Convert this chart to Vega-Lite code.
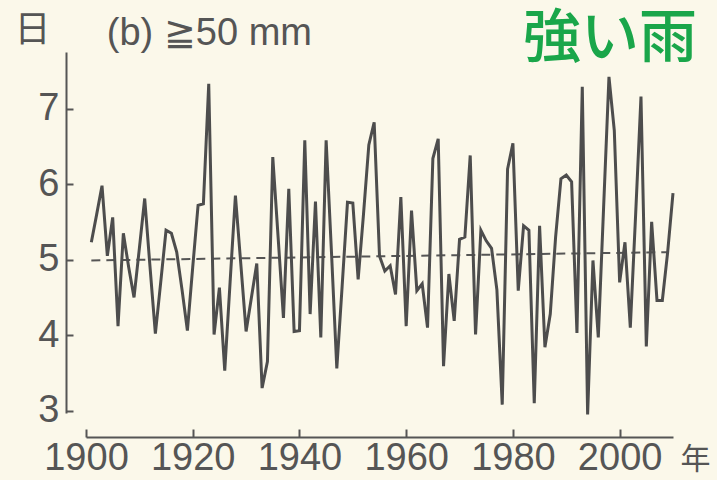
{
  "$schema": "https://vega.github.io/schema/vega-lite/v6.json",
  "autosize": {"type": "none"},
  "width": 587,
  "height": 361,
  "padding": {"left": 86, "top": 52, "right": 44, "bottom": 67},
  "background": "#fbf8ea",
  "config": {
    "view": {"stroke": null},
    "font": "Liberation Sans",
    "axis": {"grid": false}
  },
  "datasets": {
    "series": [
      {"year":1901,"v":5.23},{"year":1902,"v":5.6},{"year":1903,"v":5.98},{"year":1904,"v":5.05},{"year":1905,"v":5.56},
      {"year":1906,"v":4.12},{"year":1907,"v":5.35},{"year":1908,"v":4.9},{"year":1909,"v":4.5},{"year":1910,"v":5.15},
      {"year":1911,"v":5.81},{"year":1912,"v":4.9},{"year":1913,"v":4.02},{"year":1914,"v":4.7},{"year":1915,"v":5.39},
      {"year":1916,"v":5.35},{"year":1917,"v":5.1},{"year":1918,"v":4.6},{"year":1919,"v":4.06},{"year":1920,"v":4.9},
      {"year":1921,"v":5.72},{"year":1922,"v":5.74},{"year":1923,"v":7.33},{"year":1924,"v":4.01},{"year":1925,"v":4.63},
      {"year":1926,"v":3.53},{"year":1927,"v":4.7},{"year":1928,"v":5.85},{"year":1929,"v":4.95},{"year":1930,"v":4.05},
      {"year":1931,"v":4.5},{"year":1932,"v":4.95},{"year":1933,"v":3.3},{"year":1934,"v":3.65},{"year":1935,"v":6.36},
      {"year":1936,"v":5.3},{"year":1937,"v":4.23},{"year":1938,"v":5.94},{"year":1939,"v":4.05},{"year":1940,"v":4.06},
      {"year":1941,"v":6.58},{"year":1942,"v":4.28},{"year":1943,"v":5.77},{"year":1944,"v":3.97},{"year":1945,"v":6.58},
      {"year":1946,"v":5.1},{"year":1947,"v":3.56},{"year":1948,"v":4.65},{"year":1949,"v":5.76},{"year":1950,"v":5.75},
      {"year":1951,"v":4.74},{"year":1952,"v":5.6},{"year":1953,"v":6.52},{"year":1954,"v":6.82},{"year":1955,"v":5.05},
      {"year":1956,"v":4.85},{"year":1957,"v":4.92},{"year":1958,"v":4.54},{"year":1959,"v":5.83},{"year":1960,"v":4.12},
      {"year":1961,"v":5.65},{"year":1962,"v":4.59},{"year":1963,"v":4.68},{"year":1964,"v":4.1},{"year":1965,"v":6.34},
      {"year":1966,"v":6.6},{"year":1967,"v":3.59},{"year":1968,"v":4.81},{"year":1969,"v":4.19},{"year":1970,"v":5.27},
      {"year":1971,"v":5.3},{"year":1972,"v":6.38},{"year":1973,"v":4.01},{"year":1974,"v":5.39},{"year":1975,"v":5.25},
      {"year":1976,"v":5.15},{"year":1977,"v":4.6},{"year":1978,"v":3.08},{"year":1979,"v":6.2},{"year":1980,"v":6.54},
      {"year":1981,"v":4.59},{"year":1982,"v":5.45},{"year":1983,"v":5.39},{"year":1984,"v":3.1},{"year":1985,"v":5.45},
      {"year":1986,"v":3.84},{"year":1987,"v":4.28},{"year":1988,"v":5.3},{"year":1989,"v":6.07},{"year":1990,"v":6.12},
      {"year":1991,"v":6.03},{"year":1992,"v":4.03},{"year":1993,"v":7.29},{"year":1994,"v":2.95},{"year":1995,"v":4.99},
      {"year":1996,"v":3.97},{"year":1997,"v":5.7},{"year":1998,"v":7.42},{"year":1999,"v":6.71},{"year":2000,"v":4.7},
      {"year":2001,"v":5.23},{"year":2002,"v":4.1},{"year":2003,"v":5.6},{"year":2004,"v":7.16},{"year":2005,"v":3.85},
      {"year":2006,"v":5.5},{"year":2007,"v":4.46},{"year":2008,"v":4.46},{"year":2009,"v":5.1},{"year":2010,"v":5.88}
    ],
    "trend": [{"year":1901,"v":4.99},{"year":2009,"v":5.1}]
  },
  "layer": [
    {
      "data": {"name": "trend"},
      "mark": {"type": "line", "color": "#555555", "strokeWidth": 2, "strokeDash": [9, 6]},
      "encoding": {
        "x": {"field": "year", "type": "quantitative"},
        "y": {"field": "v", "type": "quantitative"}
      }
    },
    {
      "data": {"name": "series"},
      "mark": {"type": "line", "color": "#4d4d4d", "strokeWidth": 3, "strokeJoin": "miter"},
      "encoding": {
        "x": {
          "field": "year", "type": "quantitative",
          "scale": {"domain": [1900, 2010], "nice": false, "zero": false},
          "axis": {
            "values": [1900, 1920, 1940, 1960, 1980, 2000],
            "format": "d",
            "offset": 24,
            "domainColor": "#555555", "domainWidth": 2,
            "tickColor": "#555555", "tickWidth": 2, "tickSize": -8,
            "labelFontSize": 38, "labelColor": "#555555", "labelPadding": 10,
            "labelFlush": false, "labelOverlap": false,
            "title": "年",
            "titleFont": "Noto Sans CJK JP", "titleFontSize": 30, "titleFontWeight": "normal",
            "titleColor": "#555555", "titleAnchor": "start", "titleAlign": "left",
            "titleBaseline": "middle", "titleX": 594, "titleY": 22, "titleAngle": 0
          }
        },
        "y": {
          "field": "v", "type": "quantitative",
          "scale": {"domain": [2.97, 7.75], "nice": false, "zero": false},
          "axis": {
            "values": [3, 4, 5, 6, 7],
            "format": "d",
            "offset": 20,
            "domainColor": "#555555", "domainWidth": 2,
            "tickColor": "#555555", "tickWidth": 2, "tickSize": -7,
            "labelFontSize": 38, "labelColor": "#555555", "labelPadding": 14,
            "labelFlush": false, "labelOverlap": false,
            "title": "日",
            "titleFont": "Noto Sans CJK JP", "titleFontSize": 36, "titleFontWeight": "normal",
            "titleColor": "#555555", "titleAngle": 0, "titleAlign": "center",
            "titleBaseline": "middle", "titleX": -34, "titleY": -22
          }
        }
      }
    },
    {
      "data": {"values": [{"label": "(b) ≧50 mm"}]},
      "mark": {"type": "text", "align": "left", "baseline": "middle", "fontSize": 38, "color": "#555555", "font": "Liberation Sans"},
      "encoding": {
        "x": {"datum": 1903.9, "type": "quantitative"},
        "y": {"datum": 7.99, "type": "quantitative"},
        "text": {"field": "label"}
      }
    },
    {
      "data": {"values": [{"label": "強い雨"}]},
      "mark": {"type": "text", "align": "right", "baseline": "middle", "fontSize": 58, "color": "#1aa64a", "font": "Noto Sans CJK JP", "fontWeight": 500},
      "encoding": {
        "x": {"datum": 2014.5, "type": "quantitative"},
        "y": {"datum": 7.91, "type": "quantitative"},
        "text": {"field": "label"}
      }
    }
  ]
}
